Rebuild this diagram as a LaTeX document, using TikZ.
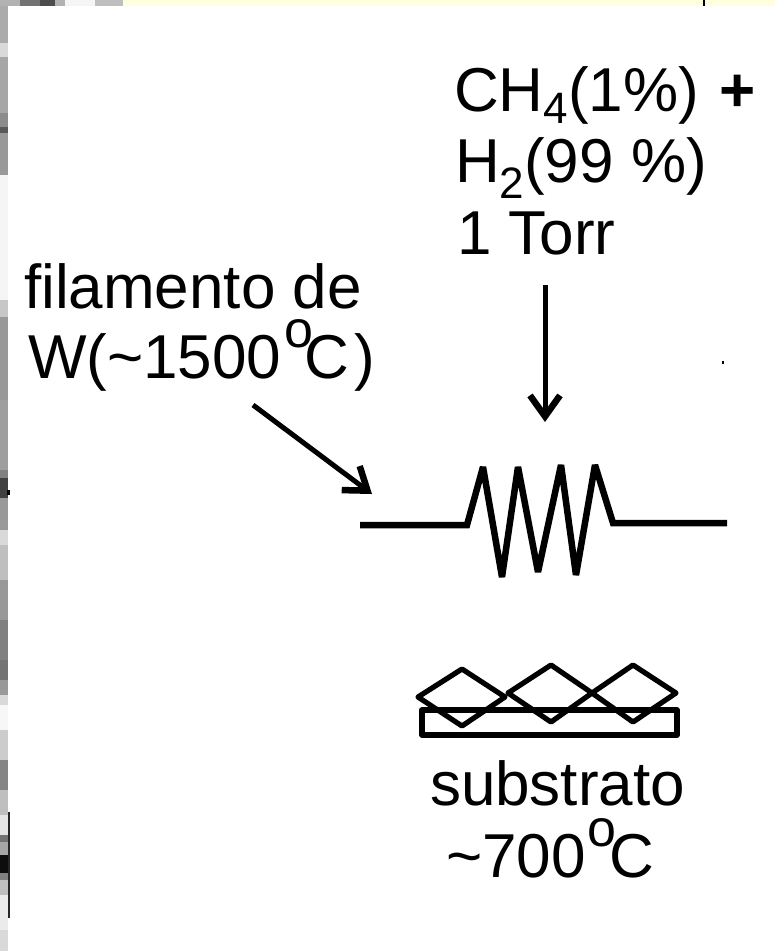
\documentclass[tikz,border=0pt]{standalone}
\usepackage{fontspec}
\setmainfont{Liberation Sans}
\usetikzlibrary{arrows.meta}
\tikzset{
  lbl/.style={anchor=base west,inner sep=0pt,outer sep=0pt,font=\fontsize{62}{62}\selectfont},
  wire/.style={line width=6.5pt,line join=miter,miter limit=3},
  gem/.style={line width=5.2pt,line join=round},
  arr/.style={line width=5pt,-{Straight Barb[length=21pt,width=30pt,line width=6.5pt]}}
}
\definecolor{cream}{RGB}{255,255,224}
\newcommand{\subsc}[2]{\raisebox{-#1pt}{\fontsize{44}{44}\selectfont #2}}
\newcommand{\degs}{\raisebox{31pt}{\fontsize{52}{52}\selectfont o}}
\begin{document}
\begin{tikzpicture}[x=1pt,y=-1pt]
\useasboundingbox (0,0) rectangle (775,951);
\fill[white] (0,0) rectangle (775,951);
% top strip
\fill[cream] (123,0) rectangle (775,6);
\foreach \a/\b/\s in {0/20/30,20/40/55,40/55/70,55/65/30,65/95/4,95/123/25}
  \fill[black!\s] (\a,0) rectangle (\b,6);
\fill[black] (703,0) rectangle (705,6);
% left strip
\foreach \a/\b/\s in {6/43/33,43/57/15,57/113/35,113/127/45,127/133/65,133/175/40,175/300/4,300/317/22,317/400/40,
  400/470/38,470/478/50,478/498/75,498/530/40,530/545/15,545/580/25,580/620/40,620/660/50,660/680/55,680/695/40,695/705/15,705/730/3,730/760/20,760/790/48,
  790/815/25,815/835/10,835/842/55,842/855/35,855/873/95,873/880/50,880/895/25,895/930/8,930/951/15}
  \fill[black!\s] (0,\a) rectangle (8,\b);
\fill[black!85] (8,812) rectangle (9.7,918);
\fill[black] (7,490) rectangle (10,495);
\fill[black] (722,361) rectangle (724,364);
% texts
\node[lbl] (gas1) at (454,111) {CH\subsc{12}{4}(1\%)\ \kern3pt\textbf{+}};
\node[lbl] (gas2) at (455,182) {H\subsc{16}{2}(99 \%)};
\node[lbl] (gas3) at (457,254) {1 Torr};
\node[lbl] (fil1) at (24,308) {filamento de};
\node[lbl] (fil2) at (28,378) {W(\textasciitilde 1500\kern3pt\degs\kern-9pt C\kern6pt)};
\node[lbl] (sub1) at (430,805) {substrato};
\node[lbl] (sub2) at (446,877) {\textasciitilde 700\kern2pt\degs\kern-7pt C};
% arrows
\coordinate (a1s) at (545,285); \coordinate (a1e) at (545,422);
\coordinate (a2s) at (253,405); \coordinate (a2e) at (372,494);
\draw[arr] (a1s) -- (a1e);
\draw[arr] (a2s) -- (a2e);
% filament
\draw[wire] (360,525) -- (467,525) -- (483,467) -- (502,577) -- (518,467) -- (538,572) -- (561,465) -- (576,575) -- (595,465) -- (613,523) -- (727,523);
% substrate
\draw[gem] (422,710) rectangle (677,735);
\draw[gem] (418,697) -- (462,669) -- (505,697) -- (462,726) -- cycle;
\draw[gem] (508,693) -- (551,665) -- (592,693) -- (551,722) -- cycle;
\draw[gem] (592,693) -- (633,665) -- (676,693) -- (633,722) -- cycle;
\end{tikzpicture}
\end{document}
